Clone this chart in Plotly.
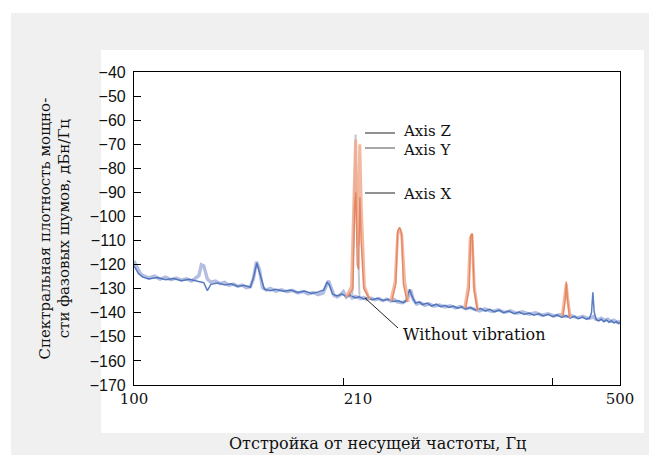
import math
import plotly.graph_objects as go

# ---------------- data ----------------
freq_lav = [100, 101, 102, 103, 105, 107, 109, 111, 113, 115, 117, 119, 121, 122.5, 124, 125, 126, 127.5, 129, 131,
            133, 135, 137, 139, 141, 143, 145, 147, 148.5, 150, 151.5, 153, 155, 157, 160, 163, 166, 169, 172, 175,
            178, 181, 184, 187, 189, 190.5, 192, 194, 196, 198, 200, 202, 204, 206, 208, 212, 214, 216, 219, 222,
            225, 228, 231, 234, 237, 239, 243, 246, 248, 250, 252, 255, 258, 262, 266, 270, 275, 280, 285, 290,
            295, 300, 304, 309, 314, 320, 327, 334, 341, 348, 355, 362, 370, 378, 386, 394, 402, 410, 418, 426,
            434, 442, 450, 455, 458, 461, 465, 470, 475, 480, 485, 490, 495, 500]
psd_lav = [-118.5, -121, -123.5, -124.5, -125.5, -124.8, -126, -125.2, -126.3, -125.6, -126.4, -125.9, -126.8, -125.7,
           -124.5, -120, -120.5, -126, -127.3, -126.8, -127.9, -127.4, -128.6, -128.1, -129, -128.5, -129.6, -129.2,
           -126, -118.8, -122, -129.5, -130.6, -129.9, -131, -130.4, -131.3, -130.7, -131.8, -131.2, -132.2, -131.6,
           -132.5, -131.8, -128.5, -126.7, -129.5, -132.8, -133.4, -132.6, -131.2, -133.5, -132.4, -133.9, -133.2,
           -134.1, -133.6, -134.4, -133.9, -134.6, -134.1, -135, -134.3, -135.2, -134.6, -135.5, -135.8, -135.2,
           -133.5, -130.5, -134.5, -136.4, -135.8, -136.9, -136.3, -137.3, -136.8, -137.6, -137.1, -138, -137.4,
           -138.3, -137.9, -138.5, -139.2, -138.4, -139.5, -138.8, -139.8, -139.2, -140.2, -139.6, -140.6, -140,
           -141, -140.4, -141.3, -140.8, -141.6, -141.2, -142.1, -141.5, -142.4, -142, -141.5, -142.6, -142.9,
           -142.3, -143.2, -142.7, -143.6, -143.1, -144, -143.5]

freq_base = [100, 101.5, 103, 105, 108, 111, 114, 117, 120, 123, 126, 127.5, 129, 132, 135, 138, 141, 144, 147, 148.8,
             150.2, 151.8, 154, 157, 160, 164, 168, 172, 176, 180, 184, 187.5, 189.5, 191, 193, 196, 199, 202, 205,
             208, 211, 214, 217, 220, 224, 228, 232, 236, 240, 244, 247, 249, 251, 254, 257, 260, 264, 268, 272,
             276, 280, 284, 288, 292, 296, 300, 305, 310, 315, 320, 325, 330, 335, 340, 346, 352, 358, 364, 370,
             376, 382, 388, 394, 400, 406, 412, 418, 424, 430, 436, 442, 447, 452, 455, 457, 459, 462, 466, 470,
             474, 478, 482, 486, 490, 494, 498, 500]
psd_base = [-120.5, -123.8, -125.2, -126, -125.4, -126.3, -125.8, -126.7, -126.1, -126.9, -127.5, -130.8, -128.2,
            -127.6, -128.5, -128, -129.1, -128.6, -129.4, -124.5, -119.3, -124, -130.2, -130.8, -130.2, -131.1,
            -130.6, -131.6, -131, -132, -131.4, -130.5, -127.2, -128.5, -132.3, -133, -132.2, -133.3, -132.7,
            -133.8, -133.4, -134.3, -133.7, -134.6, -134, -134.9, -134.4, -135.3, -135, -135.8, -134.5, -130.2,
            -133, -136, -135.5, -136.6, -136, -137.2, -136.4, -137.5, -136.9, -137.8, -137.2, -138.1, -137.5,
            -138.4, -137.8, -138.9, -138.2, -139.3, -138.6, -139.6, -138.9, -140, -139.3, -140.4, -139.7, -140.7,
            -140.1, -141, -140.4, -141.3, -140.6, -141.6, -140.9, -141.9, -141.2, -142.2, -141.5, -142.5, -141.8,
            -142.7, -142.2, -140, -131.5, -139.5, -142.8, -143.4, -142.7, -143.7, -143, -144, -143.3, -144.3,
            -143.6, -144.5, -144]

freq_z = [206, 207.3, 208.3, 209.3, 211]
psd_z = [-133, -90, -66, -100, -133]

freq_y = [202, 205.5, 207.3, 208.3, 209.3, 210.2, 211.2, 212.2, 214.5, 218, None,
          234, 237.5, 239.5, 241, 242.8, 245, 248, None,
          299, 302.5, 304.5, 306.3, 308.5, 312, None,
          413, 416.5, 418.5, 420.5, 424]
psd_y = [-133.5, -129, -90, -68, -100, -112, -70, -95, -129, -134.5, None,
         -135, -127, -107, -105, -108, -127, -135.5, None,
         -138, -129, -109, -107.5, -129, -139, None,
         -141.3, -134, -128, -134, -142]

freq_x = [203, 206.5, 207.8, 208.5, 209.4, 210.4, 211.3, 212.1, 214, 218, None,
          235, 238, 239.5, 241, 242.5, 244, 247, None,
          300, 303.5, 305, 306.5, 308.5, 312, None,
          414, 417, 418.5, 420, 423]
psd_x = [-133.5, -130, -95, -90, -120, -122, -92, -110, -130, -134, None,
         -135, -128, -106, -104.5, -107, -128, -135.5, None,
         -138.2, -130, -108, -107, -131, -138.8, None,
         -141.4, -135, -127, -134, -141.8]

x_tickvals = [100, 210, 500]
x_ticktext = ["100", "210", "500"]
x_minor_ticks = [200, 400]
y_tickvals = list(range(-170, -39, 10))

# ---------------- figure ----------------
SERIF = "DejaVu Serif"
SANS = "Liberation Sans"

fig = go.Figure()
fig.add_trace(go.Scatter(x=freq_lav, y=psd_lav, mode="lines", name="Axis Y",
                         line=dict(color="rgba(155,168,216,0.75)", width=3.4)))
fig.add_trace(go.Scatter(x=freq_base, y=psd_base, mode="lines", name="Without vibration",
                         line=dict(color="rgba(62,104,182,0.85)", width=1.5)))
fig.add_trace(go.Scatter(x=freq_z, y=psd_z, mode="lines", name="Axis Z", connectgaps=False,
                         line=dict(color="#c2c5cf", width=2)))
fig.add_trace(go.Scatter(x=freq_y, y=psd_y, mode="lines", name="Axis Y peaks", connectgaps=False,
                         line=dict(color="rgba(242,172,142,0.85)", width=3)))
fig.add_trace(go.Scatter(x=freq_x, y=psd_x, mode="lines", name="Axis X", connectgaps=False,
                         line=dict(color="rgba(226,128,92,0.9)", width=1.4)))

L, R, T, B = 134, 37, 72, 76
W, H = 657, 461
pw, ph = W - L - R, H - T - B


def px(xp):
    return (xp - L) / pw


def py(yp):
    return (H - B - yp) / ph


shapes = [
    dict(type="rect", xref="paper", yref="paper", x0=px(11), x1=px(649), y0=py(455), y1=py(13),
         fillcolor="#f0f0f0", line=dict(width=0), layer="below"),
    dict(type="rect", xref="paper", yref="paper", x0=px(101), x1=px(644), y0=py(433), y1=py(50),
         fillcolor="#ffffff", line=dict(width=0), layer="below"),
    dict(type="line", xref="paper", yref="paper", x0=px(365), x1=px(395), y0=py(133), y1=py(133),
         line=dict(color="#222222", width=1)),
    dict(type="line", xref="paper", yref="paper", x0=px(365), x1=px(395), y0=py(148), y1=py(148),
         line=dict(color="#777777", width=1.3)),
    dict(type="line", xref="paper", yref="paper", x0=px(365), x1=px(395), y0=py(193), y1=py(193),
         line=dict(color="#222222", width=1)),
    dict(type="line", xref="paper", yref="paper", x0=px(365), x1=px(398), y0=py(298), y1=py(328),
         line=dict(color="#222222", width=1)),
]

annotations = []
for text, ypix, size in [("Axis Z", 131, 15), ("Axis Y", 150, 15), ("Axis X", 194, 15),
                         ("Without vibration", 334, 16)]:
    annotations.append(dict(text=text, xref="paper", yref="paper", x=px(401), y=py(ypix),
                            xanchor="left", yanchor="middle", showarrow=False,
                            font=dict(family=SERIF, size=size, color="#111111")))
annotations.append(dict(text="Отстройка от несущей частоты, Гц", xref="paper", yref="paper",
                        x=0.5, y=py(443), xanchor="center", yanchor="middle", showarrow=False,
                        font=dict(family=SERIF, size=16, color="#111111")))
annotations.append(dict(text="Спектральная плотность мощно-<br>сти фазовых шумов, дБн/Гц",
                        xref="paper", yref="paper", x=px(54), y=0.5, xanchor="center", yanchor="middle",
                        textangle=-90, showarrow=False,
                        font=dict(family=SERIF, size=15, color="#111111")))

fig.update_layout(
    width=W, height=H, margin=dict(l=L, r=R, t=T, b=B, pad=0),
    paper_bgcolor="white", plot_bgcolor="white", showlegend=False,
    shapes=shapes, annotations=annotations,
    xaxis=dict(type="log", range=[math.log10(100), math.log10(500)],
               tickvals=x_tickvals, ticktext=x_ticktext, ticks="",
               tickfont=dict(family=SERIF, size=15, color="#111111"),
               showline=True, linecolor="black", linewidth=1.2, mirror=True,
               showgrid=False, zeroline=False,
               minor=dict(tickvals=x_minor_ticks, ticks="inside", ticklen=7,
                          tickcolor="black", tickwidth=1, showgrid=False)),
    yaxis=dict(range=[-170, -40], tickvals=y_tickvals, ticks="inside", ticklen=7,
               tickcolor="black", tickwidth=1,
               tickfont=dict(family=SANS, size=16, color="#111111"),
               showline=True, linecolor="black", linewidth=1.2, mirror=True,
               showgrid=False, zeroline=False, ticklabelstandoff=4),
)

fig.write_html("out.html")
